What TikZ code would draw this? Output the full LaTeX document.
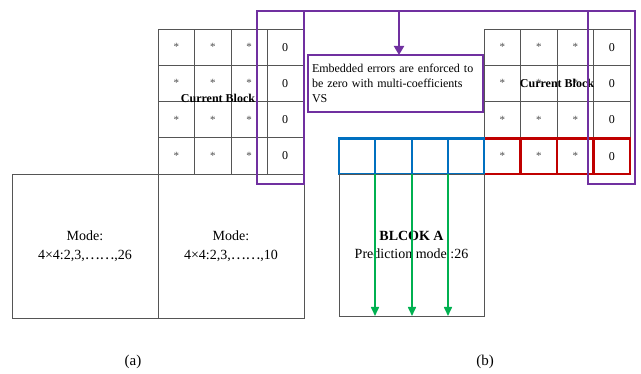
\documentclass[tikz,border=0pt]{standalone}
\usepackage{fontspec}
\setmainfont{Liberation Serif}
\newfontfamily\dotsfont{Noto Sans CJK SC}
\usetikzlibrary{arrows.meta}
\definecolor{vsPurple}{RGB}{112,48,160}
\definecolor{rowBlue}{RGB}{0,112,192}
\definecolor{rowRed}{RGB}{192,0,0}
\definecolor{predGreen}{RGB}{0,176,80}
\definecolor{gridGray}{RGB}{85,85,85}
\newcommand{\cdotrun}{{\dotsfont ⋯⋯}}

\begin{document}
\begin{tikzpicture}[x=1pt,y=-1pt,
  base/.style={rectangle, inner sep=0pt, outer sep=0pt, anchor=north west},
  cell/.style={base, draw=gridGray, line width=0.8pt, minimum width=#1, minimum height=36.25pt},
  cell/.default=36pt,
  starmark/.style={text=gray!60!black, font=\fontsize{11}{11}\selectfont},
  zeromark/.style={font=\fontsize{12}{12}\selectfont},
  blueCell/.style={base, draw=rowBlue, line width=2.6pt, minimum width=36.25pt, minimum height=35.5pt},
  redCell/.style={base, draw=rowRed, line width=2.6pt, minimum width=36.5pt, minimum height=35.5pt},
  vsFrame/.style={base, draw=vsPurple, line width=2.7pt, minimum width=47pt, minimum height=173pt},
  modeBox/.style={base, draw=gridGray, line width=0.8pt, minimum width=146pt, minimum height=144pt,
    align=center, font=\fontsize{14}{19}\selectfont},
  blockTitle/.style={font=\bfseries\fontsize{12}{14}\selectfont},
  caption/.style={font=\fontsize{15}{18}\selectfont},
  purpleArrow/.style={draw=vsPurple, line width=2pt, -{Triangle[width=10pt,length=9pt]}},
  greenArrow/.style={draw=predGreen, line width=1.6pt, -{Triangle[width=8pt,length=9pt]}},
]
\useasboundingbox (0,0) rectangle (641,374);

% ---- (a): 4x4 current block with the two mode regions below
\foreach \r in {1,...,4}{
  \foreach \c/\x/\w in {1/158/36.5pt,2/194.5/36.5pt,3/231/36pt}{
    \node[cell=\w, starmark] (L\r\c) at (\x,{29+(\r-1)*36.25}) {*};
  }
  \node[cell, zeromark] (L\r4) at (267,{29+(\r-1)*36.25}) {0};
}
\node[blockTitle] (curA) at (218,98) {Current Block};

\node[modeBox] (modeL) at (12,174) {Mode:\\4×4:2,3,\cdotrun,26};
\node[modeBox] (modeR) at (158,174) {Mode:\\4×4:2,3,\cdotrun,10};

% ---- (b): current block whose bottom row feeds block A
\foreach \r in {1,...,3}{
  \foreach \c in {1,...,3}{
    \node[cell=36.5pt, starmark] (R\r\c) at ({484+(\c-1)*36.5},{29+(\r-1)*36.25}) {*};
  }
  \node[cell=36.5pt, zeromark] (R\r4) at ({484+3*36.5},{29+(\r-1)*36.25}) {0};
}
\foreach \c in {1,...,3}{
  \node[redCell, starmark] (Q\c) at ({484+(\c-1)*36.5},138.5) {*};
}
\node[redCell, zeromark] (Q4) at ({484+3*36.5},138.5) {0};
\node[blockTitle] (curB) at (557,83) {Current Block};

\foreach \c/\x/\w in {1/339/36pt,2/375/37pt,3/412/36pt,4/448/36pt}{
  \node[blueCell, minimum width=\w] (B\c) at (\x,138.5) {};
}

\node[base, draw=gridGray, line width=0.8pt, minimum width=145pt, minimum height=142pt,
  align=center, font=\fontsize{14}{18}\selectfont] (blockA) at (339,174)
  {{\bfseries BLCOK A}\\Prediction mode :26};

\foreach \c in {1,...,3}{
  \draw[greenArrow] (B\c.south east) -- (B\c.south east |- blockA.south);
}

% ---- VS frames around the last column, joined at the top
\node[vsFrame] (vsL) at (257,11) {};
\node[vsFrame] (vsR) at (588,11) {};
\draw[vsPurple, line width=2.7pt] (vsL.north east) -- (vsR.north west);

\node[base, draw=vsPurple, line width=2pt, minimum width=175pt, minimum height=57pt,
  text width=167pt, inner xsep=4pt, align=left, font=\fontsize{12}{15}\selectfont] (note) at (308,55)
  {Embedded errors are enforced to\\be zero with multi-coefficients\\VS};

\coordinate (tap) at (399,11);
\draw[purpleArrow] (tap) -- (tap |- note.north);

% ---- captions
\node[caption] (capA) at (133,362) {(a)};
\node[caption] (capB) at (485,362) {(b)};
\end{tikzpicture}
\end{document}
